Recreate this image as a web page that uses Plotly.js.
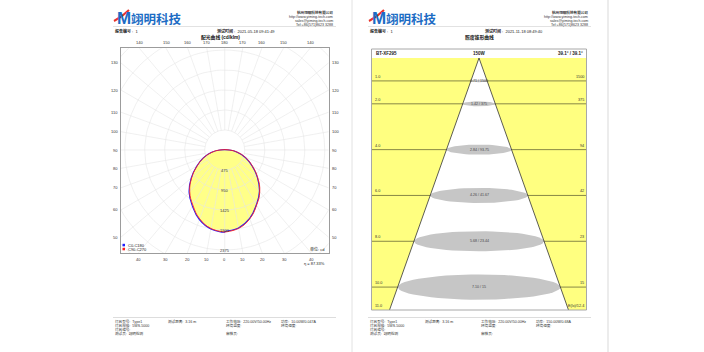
<!DOCTYPE html>
<html><head><meta charset="utf-8">
<script src="https://cdn.plot.ly/plotly-3.0.1.min.js"></script>
<style>html,body{margin:0;padding:0;background:#fff}#chart{width:704px;height:352px}</style>
</head><body><div id="chart"></div>
<script>
// ---------------- data ----------------
const gammaDeg   = [0, 10, 20, 30, 40, 50, 60, 70, 80, 90];
const cdC0       = [1940, 1880, 1728, 1500, 1280, 1010, 745, 520, 300, 110];
const cdC180     = [1948, 1905, 1762, 1538, 1318, 1042, 770, 542, 316, 120];
const cdC90      = [1948, 1890, 1738, 1512, 1292, 1022, 755, 528, 306, 115];
const cdC270     = [1948, 1892, 1740, 1514, 1294, 1024, 755, 528, 306, 115];
const radialTicks = [475, 950, 1425, 1900, 2375];
const angleTicks  = [0, 10, 20, 30, 40, 50, 60, 70, 80, 90, 100, 110, 120, 130, 140, 150, 160, 170, 180];
const seriesNames = ['C0-C180', 'C90-C270'];

const distM     = [1, 2, 4, 6, 8, 10];
const spotDiamM = [0.71, 1.42, 2.84, 4.26, 5.68, 7.10];
const illumLx   = [1500, 375, 93.75, 41.67, 23.44, 15.00];
const maxDistM  = 11;
const beamAngleDeg = 39.1;
const coneHeader = ['BT-XF295', '150W', '39.1° / 39.1°'];

const companyInfo = ['杭州翊明科技有限公司', 'http://www.yiming-tech.com', 'sales@yiming-tech.com', 'Tel:+86(571)8623 3288'];
const footerL = [['灯具型号:  Type1', '测试距离:  3.16 m', '工作电压:  220.00V/50.00Hz', '功率:  10.00W/0.047A'],
                 ['灯具规格:  5WS-5000', '', '环境温度:', '环境湿度:'],
                 ['灯具编号:', '', '', ''],
                 ['测试员:  翊明检测', '', '审核员:', '']];
const footerR = [['灯具型号:  Type1', '测试距离:  3.16 m', '工作电压:  220.00V/50.00Hz', '功率:  150.00W/0.68A'],
                 ['灯具规格:  5WS-5000', '', '环境温度:', '环境湿度:'],
                 ['灯具编号:', '', '', ''],
                 ['测试员:  翊明检测', '', '审核员:', '']];

// ---------------- geometry / style ----------------
const W = 704, H = 352;
const FONT = 'Liberation Sans, Noto Sans CJK SC, sans-serif';
const px = x => x / W, py = y => 1 - y / H;
const PL = {l: 121, r: 328.5, t: 48.3, b: 253.3, ox: 224.75, oy: 150, k: 20 / 475};
const CL = {l: 371.5, r: 586.5, t: 58, b: 310, head: 49};
const d2r = Math.PI / 180;

const xr1 = [(PL.l - PL.ox) / PL.k, (PL.r - PL.ox) / PL.k];
const yr1 = [(PL.oy - PL.b) / PL.k, (PL.oy - PL.t) / PL.k];
const kC = (CL.b - CL.t) / maxDistM;
const xh2 = (CL.r - CL.l) / 2 / kC;

const traces = [];
const annotations = [];
const shapes = [];
function ann(text, x, y, o) {
  annotations.push(Object.assign({text: text, x: x, y: y, xref: 'paper', yref: 'paper', showarrow: false,
    font: {family: FONT, size: 4, color: '#222'}, xanchor: 'left', yanchor: 'middle'}, o || {}));
}

// ---------- polar curve helper ----------
function curve(right, left) {
  const xs = [], ys = [];
  for (let i = 0; i < gammaDeg.length; i++) { const a = gammaDeg[i] * d2r; xs.push(right[i] * Math.sin(a)); ys.push(-right[i] * Math.cos(a)); }
  for (let i = gammaDeg.length - 1; i >= 0; i--) { const a = gammaDeg[i] * d2r; xs.push(-left[i] * Math.sin(a)); ys.push(-left[i] * Math.cos(a)); }
  xs.push(xs[0]); ys.push(ys[0]);
  return {xs, ys};
}
const cA = curve(cdC0, cdC180), cB = curve(cdC90, cdC270);
traces.push({x: cB.xs, y: cB.ys, xaxis: 'x', yaxis: 'y', mode: 'lines', line: {width: 0, shape: 'spline', smoothing: 1.3},
  fill: 'toself', fillcolor: '#ffff88', hoverinfo: 'skip', showlegend: false});

// grid
const gx = [], gy = [];
for (let i = 1; i <= 8; i++) {
  const r = radialTicks[0] * i;
  for (let a = 0; a <= 360; a += 3) { gx.push(r * Math.cos(a * d2r)); gy.push(r * Math.sin(a * d2r)); }
  gx.push(null); gy.push(null);
}
for (let a = 0; a < 360; a += 10) {
  gx.push(radialTicks[0] * Math.cos(a * d2r), 9000 * Math.cos(a * d2r), null);
  gy.push(radialTicks[0] * Math.sin(a * d2r), 9000 * Math.sin(a * d2r), null);
}
traces.push({x: gx, y: gy, xaxis: 'x', yaxis: 'y', mode: 'lines', line: {width: 0.6, color: '#e6e6e6'}, hoverinfo: 'skip', showlegend: false});
traces.push({x: cA.xs, y: cA.ys, xaxis: 'x', yaxis: 'y', mode: 'lines', name: seriesNames[0], line: {width: 1.1, color: '#1f1fff', shape: 'spline', smoothing: 1.3}, showlegend: false});
traces.push({x: cB.xs, y: cB.ys, xaxis: 'x', yaxis: 'y', mode: 'lines', name: seriesNames[1], line: {width: 0.9, color: '#ff1f1f', shape: 'spline', smoothing: 1.3}, showlegend: false});

// radial labels
radialTicks.forEach(r => annotations.push({text: String(r), x: 0, y: -r, xref: 'x', yref: 'y', showarrow: false,
  font: {family: FONT, size: 4, color: '#333'}, xanchor: 'center', yanchor: 'middle'}));

// angle labels on the frame
function angleLabel(th, side) {
  const dx = side * Math.sin(th * d2r), dy = -Math.cos(th * d2r);
  let t = Infinity, edge = '';
  if (dx > 1e-9 && xr1[1] / dx < t) { t = xr1[1] / dx; edge = 'r'; }
  if (dx < -1e-9 && xr1[0] / dx < t) { t = xr1[0] / dx; edge = 'l'; }
  if (dy > 1e-9 && yr1[1] / dy < t) { t = yr1[1] / dy; edge = 't'; }
  if (dy < -1e-9 && yr1[0] / dy < t) { t = yr1[0] / dy; edge = 'b'; }
  const o = {text: String(th), xref: 'x', yref: 'y', showarrow: false, font: {family: FONT, size: 4, color: '#333'}};
  if (edge === 'r') Object.assign(o, {x: xr1[1], y: t * dy, xanchor: 'left', yanchor: 'middle', xshift: 1.5});
  if (edge === 'l') Object.assign(o, {x: xr1[0], y: t * dy, xanchor: 'right', yanchor: 'middle', xshift: -1.5});
  if (edge === 't') Object.assign(o, {x: t * dx, y: yr1[1], xanchor: 'center', yanchor: 'bottom', yshift: 1});
  if (edge === 'b') Object.assign(o, {x: t * dx, y: yr1[0], xanchor: 'center', yanchor: 'top', yshift: -1.5});
  annotations.push(o);
}
angleTicks.forEach(th => { angleLabel(th, 1); if (th !== 0 && th !== 180) angleLabel(th, -1); });

// legend + units
shapes.push({type: 'rect', xref: 'paper', yref: 'paper', x0: px(122.5), x1: px(125), y0: py(246.3), y1: py(243.8), fillcolor: '#1f1fff', line: {width: 0}});
shapes.push({type: 'rect', xref: 'paper', yref: 'paper', x0: px(122.5), x1: px(125), y0: py(250.3), y1: py(247.8), fillcolor: '#ff1f1f', line: {width: 0}});
ann(seriesNames[0], px(126), py(245));
ann(seriesNames[1], px(126), py(249));
ann('单位: cd', px(326), py(249), {xanchor: 'right'});
ann('η = 87.33%', px(327), py(263), {xanchor: 'right'});

// ---------- cone diagram ----------
const tanH = Math.tan(beamAngleDeg / 2 * d2r);
shapes.push({type: 'rect', xref: 'x2', yref: 'y2', x0: -xh2, x1: xh2, y0: 0, y1: maxDistM, fillcolor: '#ffff80', line: {width: 0}, layer: 'below'});
traces.push({x: [-maxDistM * tanH, 0, maxDistM * tanH], y: [maxDistM, 0, maxDistM], xaxis: 'x2', yaxis: 'y2', mode: 'lines',
  fill: 'toself', fillcolor: '#ffffff', line: {width: 0}, hoverinfo: 'skip', showlegend: false});
const hx = [], hy = [];
distM.forEach(d => { hx.push(-xh2, xh2, null); hy.push(d, d, null); });
traces.push({x: hx, y: hy, xaxis: 'x2', yaxis: 'y2', mode: 'lines', line: {width: 0.9, color: '#7a7a40'}, hoverinfo: 'skip', showlegend: false});
distM.forEach((d, i) => {
  const a = spotDiamM[i] / 2, b = a * 0.155, ex = [], ey = [];
  for (let t = 0; t <= 360; t += 6) { ex.push(a * Math.cos(t * d2r)); ey.push(d + b * Math.sin(t * d2r)); }
  traces.push({x: ex, y: ey, xaxis: 'x2', yaxis: 'y2', mode: 'lines', fill: 'toself', fillcolor: '#c6c6c6', line: {width: 0}, hoverinfo: 'skip', showlegend: false});
  annotations.push({text: spotDiamM[i].toFixed(2) + ' / ' + illumLx[i], x: 0, y: d, xref: 'x2', yref: 'y2', showarrow: false,
    font: {family: FONT, size: 3.6, color: '#444'}, xanchor: 'center', yanchor: 'middle'});
  annotations.push({text: d.toFixed(1), x: -xh2, y: d, xref: 'x2', yref: 'y2', showarrow: false,
    font: {family: FONT, size: 3.8, color: '#333'}, xanchor: 'left', yanchor: 'bottom', xshift: 1});
  annotations.push({text: String(Math.round(illumLx[i])), x: xh2, y: d, xref: 'x2', yref: 'y2', showarrow: false,
    font: {family: FONT, size: 3.8, color: '#333'}, xanchor: 'right', yanchor: 'bottom', xshift: -1});
});
traces.push({x: [-maxDistM * tanH, 0, maxDistM * tanH], y: [maxDistM, 0, maxDistM], xaxis: 'x2', yaxis: 'y2', mode: 'lines',
  line: {width: 0.8, color: '#333'}, hoverinfo: 'skip', showlegend: false});
annotations.push({text: maxDistM.toFixed(1), x: -xh2, y: maxDistM, xref: 'x2', yref: 'y2', showarrow: false,
  font: {family: FONT, size: 3.8, color: '#333'}, xanchor: 'left', yanchor: 'bottom', xshift: 1});
annotations.push({text: 'E(lx)/' + (illumLx[0] / (maxDistM * maxDistM)).toFixed(1), x: xh2, y: maxDistM, xref: 'x2', yref: 'y2', showarrow: false,
  font: {family: FONT, size: 3.8, color: '#333'}, xanchor: 'right', yanchor: 'bottom', xshift: -1});
shapes.push({type: 'rect', xref: 'paper', yref: 'paper', x0: px(CL.l), x1: px(CL.r), y0: py(CL.b), y1: py(CL.head), line: {width: 1, color: '#a8a8a8'}, fillcolor: 'rgba(0,0,0,0)'});
ann(coneHeader[0], px(CL.l + 2), py(53.5), {font: {family: FONT, size: 4.5, color: '#222', weight: 'bold'}});
ann(coneHeader[1], px((CL.l + CL.r) / 2), py(53.5), {xanchor: 'center', font: {family: FONT, size: 4.5, color: '#222', weight: 'bold'}});
ann(coneHeader[2], px(CL.r - 2), py(53.5), {xanchor: 'right', font: {family: FONT, size: 4.5, color: '#222', weight: 'bold'}});

// ---------- page furniture ----------
function page(x0, logoX, infoR, titleX, metaX, title, date, footer, fcols) {
  ann('M', px(logoX), py(18.5), {font: {family: FONT, size: 17, color: '#1c6cc4', weight: 'bold'}, xanchor: 'left'});
  shapes.push({type: 'path', xref: 'paper', yref: 'paper', path: 'M ' + px(logoX - 1) + ',' + py(21) + ' Q ' + px(logoX + 7) + ',' + py(17) + ' ' + px(logoX + 14) + ',' + py(10),
    line: {color: '#e8332a', width: 2}});
  ann('翊明科技', px(logoX + 13.5), py(18.5), {font: {family: 'Noto Sans CJK SC', size: 12.5, color: '#1c6cc4', weight: 'bold'}});
  companyInfo.forEach((t, i) => ann(t, px(infoR), py(12.5 + i * 4.1), {xanchor: 'right', font: {family: FONT, size: 3.6, color: '#333', weight: i === 0 ? 'bold' : 'normal'}}));
  shapes.push({type: 'line', xref: 'paper', yref: 'paper', x0: px(x0), x1: px(infoR + 1), y0: py(26.5), y1: py(26.5), line: {color: '#d6d6d6', width: 0.7}});
  ann('<b>报告编号</b> :  1', px(x0), py(30.5), {font: {family: FONT, size: 4, color: '#222'}});
  ann('<b>测试时间</b> :  ' + date, px(metaX), py(30.5), {font: {family: FONT, size: 4, color: '#222'}});
  ann('<b>' + title + '</b>', px(titleX), py(37), {xanchor: 'center', font: {family: FONT, size: 4.8, color: '#111'}});
  shapes.push({type: 'line', xref: 'paper', yref: 'paper', x0: px(x0), x1: px(infoR + 1), y0: py(317.5), y1: py(317.5), line: {color: '#cfcfcf', width: 0.7}});
  footer.forEach((row, r) => row.forEach((t, c) => { if (t) ann(t, px(fcols[c]), py(321.5 + r * 3.9), {font: {family: FONT, size: 3.6, color: '#333'}}); }));
}
page(113, 115, 335, 220, 215, '配光曲线 (cd/klm)', '2021-05-18 09:41:49', footerL, [113, 166, 224, 279]);
page(368, 370, 590, 479, 483, '照度锥形曲线', '2021-11-18 08:49:40', footerR, [368, 423, 479, 534]);
shapes.push({type: 'line', xref: 'paper', yref: 'paper', x0: px(352), x1: px(352), y0: 0, y1: 1, line: {color: '#e2e2e2', width: 1}});
shapes.push({type: 'line', xref: 'paper', yref: 'paper', x0: px(608), x1: px(608), y0: 0, y1: 1, line: {color: '#e6e6e6', width: 1.5}});

const axBase = {showgrid: false, zeroline: false, showticklabels: false, ticks: '', fixedrange: true};
const layout = {
  width: W, height: H, margin: {l: 0, r: 0, t: 0, b: 0}, paper_bgcolor: '#ffffff', plot_bgcolor: 'rgba(0,0,0,0)',
  showlegend: false, font: {family: FONT},
  xaxis: Object.assign({}, axBase, {domain: [px(PL.l), px(PL.r)], range: xr1, showline: true, mirror: true, linecolor: '#9c9c9c', linewidth: 1, anchor: 'y'}),
  yaxis: Object.assign({}, axBase, {domain: [py(PL.b), py(PL.t)], range: yr1, showline: true, mirror: true, linecolor: '#9c9c9c', linewidth: 1, anchor: 'x'}),
  xaxis2: Object.assign({}, axBase, {domain: [px(CL.l), px(CL.r)], range: [-xh2, xh2], anchor: 'y2'}),
  yaxis2: Object.assign({}, axBase, {domain: [py(CL.b), py(CL.t)], range: [maxDistM, 0], anchor: 'x2'}),
  annotations: annotations, shapes: shapes
};
Plotly.newPlot('chart', traces, layout, {staticPlot: true, displayModeBar: false});
</script></body></html>
